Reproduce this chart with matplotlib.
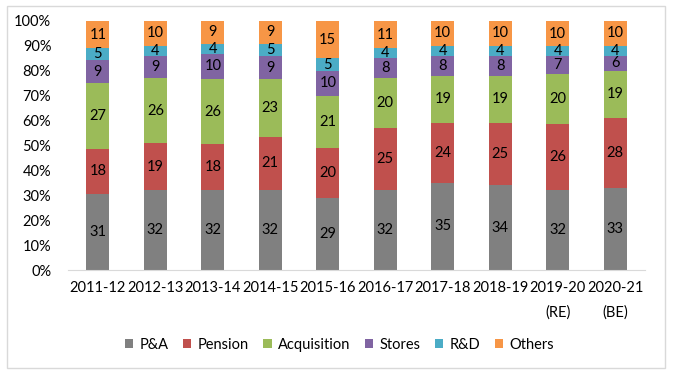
import numpy as np
import matplotlib.pyplot as plt
from matplotlib.patches import Rectangle

years = ['2011-12', '2012-13', '2013-14', '2014-15', '2015-16', '2016-17',
         '2017-18', '2018-19', '2019-20\n(RE)', '2020-21\n(BE)']
series = ['P&A', 'Pension', 'Acquisition', 'Stores', 'R&D', 'Others']
colors = ['#808080', '#C0504D', '#9BBB59', '#8064A2', '#4BACC6', '#F79646']

pa = [31, 32, 32, 32, 29, 32, 35, 34, 32, 33]
pension = [18, 19, 18, 21, 20, 25, 24, 25, 26, 28]
acquisition = [27, 26, 26, 23, 21, 20, 19, 19, 20, 19]
stores = [9, 9, 10, 9, 10, 8, 8, 8, 7, 6]
rnd = [5, 4, 4, 5, 5, 4, 4, 4, 4, 4]
others = [11, 10, 9, 9, 15, 11, 10, 10, 10, 10]

plt.rcParams['font.family'] = ['Lato', 'DejaVu Sans']

data = np.array([pa, pension, acquisition, stores, rnd, others], dtype=float)
share = data / data.sum(axis=0) * 100

fig = plt.figure(figsize=(6.73, 3.74), dpi=100)
ax = fig.add_axes([68 / 673, 1 - 270 / 374, 577 / 673, 249 / 374])

x = np.arange(len(years))
bottom = np.zeros(len(years))
for vals, pct, name, c in zip(data, share, series, colors):
    ax.bar(x, pct, 0.4, bottom=bottom, color=c, label=name)
    for xi, b, p, v in zip(x, bottom, pct, vals):
        ax.text(xi, b + p / 2, '%d' % v, ha='center', va='center', fontsize=10.5)
    bottom += pct

ax.set_ylim(0, 100)
ax.set_xlim(-0.52, len(years) - 0.48)
ax.set_yticks(np.arange(0, 101, 10))
ax.set_yticklabels(['%d%%' % t for t in range(0, 101, 10)], fontsize=10.5)
ax.set_xticks(x)
ax.set_xticklabels(years, fontsize=10.5, linespacing=1.9)
ax.tick_params(length=0, pad=8)
ax.tick_params(axis='y', pad=12)
for s in ['top', 'right', 'left']:
    ax.spines[s].set_visible(False)
ax.spines['bottom'].set_color('#d9d9d9')

leg = ax.legend(loc='center', bbox_to_anchor=(0.47, -0.3), ncol=6, frameon=False,
                fontsize=10.5, handlelength=0.6, handleheight=0.6, handletextpad=0.4,
                columnspacing=1.0)

fig.patches.append(Rectangle((7 / 673, 6 / 374), 658 / 673, 362 / 374, transform=fig.transFigure,
                             fill=False, edgecolor='#d9d9d9', linewidth=1))

fig.savefig('out.png', dpi=100)
